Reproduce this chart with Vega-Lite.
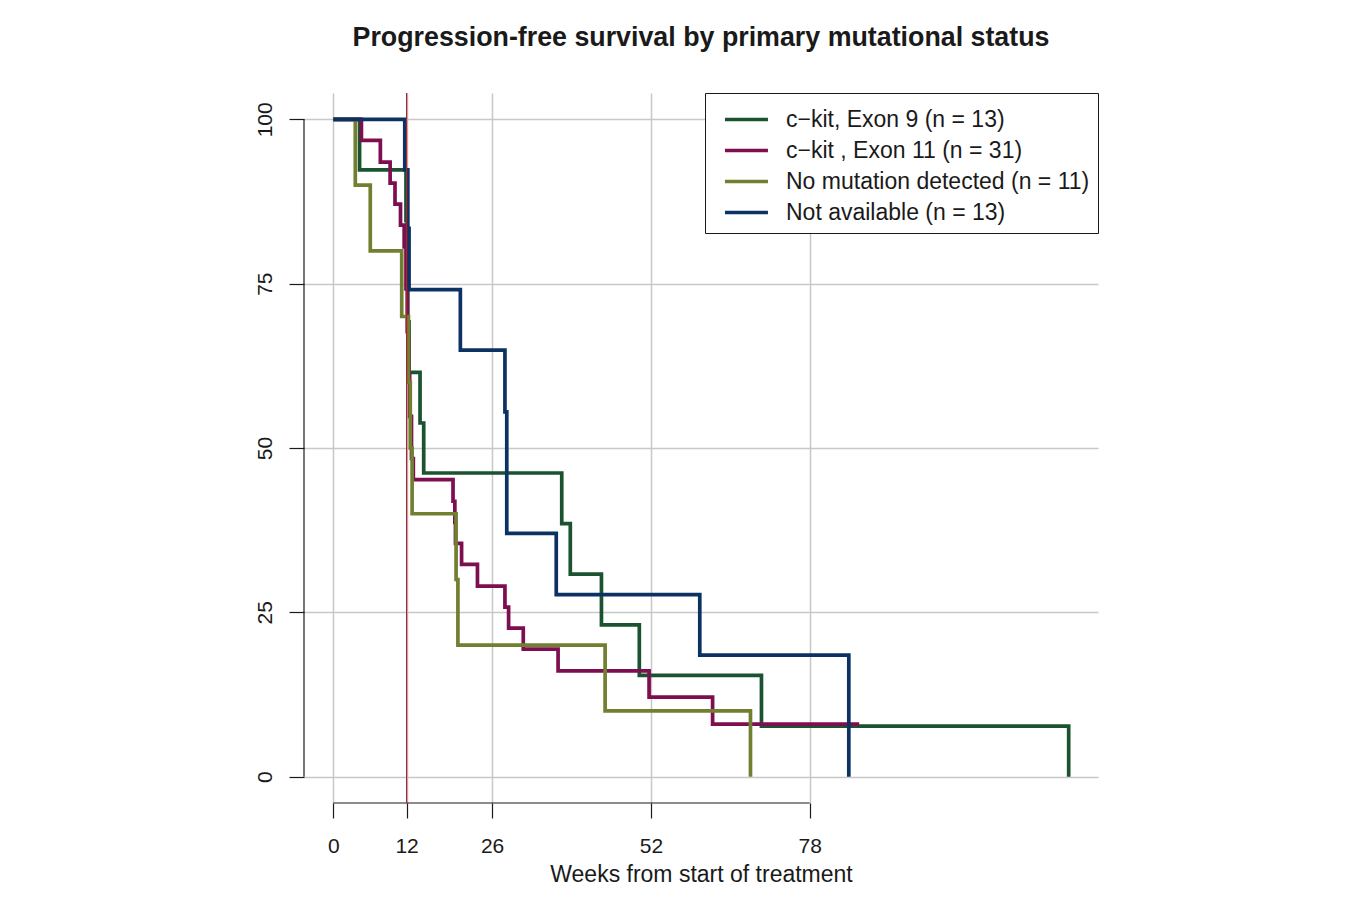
{
  "$schema": "https://vega.github.io/schema/vega-lite/v6.json",
  "autosize": {"type": "none"},
  "padding": {"left": 304, "top": 93, "right": 249, "bottom": 118},
  "width": 794,
  "height": 710,
  "background": "white",
  "title": {
    "text": "Progression-free survival by primary mutational status",
    "fontSize": 26.8,
    "fontWeight": "bold",
    "font": "Liberation Sans",
    "color": "#1a1a1a",
    "anchor": "middle",
    "offset": 41
  },
  "config": {
    "view": {"stroke": null},
    "font": "Liberation Sans"
  },
  "datasets": {
    "curves": [
      {"g": "c−kit, Exon 9 (n = 13)", "t": 0, "s": 100},
      {"g": "c−kit, Exon 9 (n = 13)", "t": 4.3, "s": 92.3},
      {"g": "c−kit, Exon 9 (n = 13)", "t": 11.9, "s": 84.6},
      {"g": "c−kit, Exon 9 (n = 13)", "t": 12.1, "s": 76.9},
      {"g": "c−kit, Exon 9 (n = 13)", "t": 12.2, "s": 69.2},
      {"g": "c−kit, Exon 9 (n = 13)", "t": 12.4, "s": 61.5},
      {"g": "c−kit, Exon 9 (n = 13)", "t": 14.2, "s": 53.8},
      {"g": "c−kit, Exon 9 (n = 13)", "t": 14.8, "s": 46.2},
      {"g": "c−kit, Exon 9 (n = 13)", "t": 37.4, "s": 38.5},
      {"g": "c−kit, Exon 9 (n = 13)", "t": 38.8, "s": 30.8},
      {"g": "c−kit, Exon 9 (n = 13)", "t": 43.9, "s": 23.1},
      {"g": "c−kit, Exon 9 (n = 13)", "t": 50.1, "s": 15.4},
      {"g": "c−kit, Exon 9 (n = 13)", "t": 70.1, "s": 7.7},
      {"g": "c−kit, Exon 9 (n = 13)", "t": 120.4, "s": 0},
      {"g": "c−kit , Exon 11 (n = 31)", "t": 0, "s": 100},
      {"g": "c−kit , Exon 11 (n = 31)", "t": 4.6, "s": 96.8},
      {"g": "c−kit , Exon 11 (n = 31)", "t": 7.7, "s": 93.5},
      {"g": "c−kit , Exon 11 (n = 31)", "t": 9.3, "s": 90.3},
      {"g": "c−kit , Exon 11 (n = 31)", "t": 10.1, "s": 87.1},
      {"g": "c−kit , Exon 11 (n = 31)", "t": 11.0, "s": 83.9},
      {"g": "c−kit , Exon 11 (n = 31)", "t": 11.6, "s": 80.6},
      {"g": "c−kit , Exon 11 (n = 31)", "t": 11.9, "s": 74.2},
      {"g": "c−kit , Exon 11 (n = 31)", "t": 12.1, "s": 67.7},
      {"g": "c−kit , Exon 11 (n = 31)", "t": 12.3, "s": 61.3},
      {"g": "c−kit , Exon 11 (n = 31)", "t": 12.5, "s": 54.8},
      {"g": "c−kit , Exon 11 (n = 31)", "t": 12.8, "s": 48.4},
      {"g": "c−kit , Exon 11 (n = 31)", "t": 13.1, "s": 45.2},
      {"g": "c−kit , Exon 11 (n = 31)", "t": 19.6, "s": 41.9},
      {"g": "c−kit , Exon 11 (n = 31)", "t": 19.9, "s": 38.7},
      {"g": "c−kit , Exon 11 (n = 31)", "t": 20.0, "s": 35.5},
      {"g": "c−kit , Exon 11 (n = 31)", "t": 21.0, "s": 32.3},
      {"g": "c−kit , Exon 11 (n = 31)", "t": 23.6, "s": 29.0},
      {"g": "c−kit , Exon 11 (n = 31)", "t": 28.1, "s": 25.8},
      {"g": "c−kit , Exon 11 (n = 31)", "t": 28.7, "s": 22.6},
      {"g": "c−kit , Exon 11 (n = 31)", "t": 31.1, "s": 19.4},
      {"g": "c−kit , Exon 11 (n = 31)", "t": 36.8, "s": 16.1},
      {"g": "c−kit , Exon 11 (n = 31)", "t": 51.7, "s": 12.1},
      {"g": "c−kit , Exon 11 (n = 31)", "t": 62.1, "s": 8.0},
      {"g": "c−kit , Exon 11 (n = 31)", "t": 86.1, "s": 8.0},
      {"g": "No mutation detected (n = 11)", "t": 0, "s": 100},
      {"g": "No mutation detected (n = 11)", "t": 3.6, "s": 90},
      {"g": "No mutation detected (n = 11)", "t": 6.05, "s": 80},
      {"g": "No mutation detected (n = 11)", "t": 11.2, "s": 70},
      {"g": "No mutation detected (n = 11)", "t": 12.3, "s": 60},
      {"g": "No mutation detected (n = 11)", "t": 12.6, "s": 50},
      {"g": "No mutation detected (n = 11)", "t": 12.9, "s": 40},
      {"g": "No mutation detected (n = 11)", "t": 20.1, "s": 30},
      {"g": "No mutation detected (n = 11)", "t": 20.4, "s": 20},
      {"g": "No mutation detected (n = 11)", "t": 44.5, "s": 10},
      {"g": "No mutation detected (n = 11)", "t": 68.3, "s": 0},
      {"g": "Not available (n = 13)", "t": 0, "s": 100},
      {"g": "Not available (n = 13)", "t": 11.7, "s": 92.3},
      {"g": "Not available (n = 13)", "t": 12.2, "s": 83.4},
      {"g": "Not available (n = 13)", "t": 12.4, "s": 74.1},
      {"g": "Not available (n = 13)", "t": 20.8, "s": 64.9},
      {"g": "Not available (n = 13)", "t": 28.1, "s": 55.5},
      {"g": "Not available (n = 13)", "t": 28.4, "s": 37.0},
      {"g": "Not available (n = 13)", "t": 36.5, "s": 27.7},
      {"g": "Not available (n = 13)", "t": 60.0, "s": 18.5},
      {"g": "Not available (n = 13)", "t": 84.4, "s": 0}
    ],
    "xaxisline": [{"a": 0, "b": 78, "yy": -4}],
    "yaxisline": [{"xx": -4.8, "a": 0, "b": 100}],
    "landmark": [{"w": 12}]
  },
  "layer": [
    {
      "data": {"name": "curves"},
      "mark": {"type": "line", "interpolate": "step-after", "strokeWidth": 3.7},
      "encoding": {
        "x": {
          "field": "t", "type": "quantitative",
          "scale": {"domain": [-4.8, 125.2], "nice": false, "zero": false},
          "axis": {
            "values": [0, 12, 26, 52, 78],
            "title": "Weeks from start of treatment",
            "titleFontSize": 23,
            "titleFontWeight": "normal",
            "titleColor": "#1a1a1a",
            "titlePadding": 7,
            "domain": false,
            "tickSize": 15,
            "tickColor": "#1a1a1a",
            "tickWidth": 1.2,
            "labelFontSize": 21,
            "labelColor": "#1a1a1a",
            "labelPadding": 17,
            "grid": true,
            "gridColor": "#c8c8c8",
            "gridWidth": 1.5
          }
        },
        "y": {
          "field": "s", "type": "quantitative",
          "scale": {"domain": [-4, 104], "nice": false, "zero": false},
          "axis": {
            "values": [0, 25, 50, 75, 100],
            "title": null,
            "domain": false,
            "tickSize": 15,
            "tickColor": "#1a1a1a",
            "tickWidth": 1.2,
            "labelFontSize": 21,
            "labelColor": "#1a1a1a",
            "labelAngle": -90,
            "labelAlign": "center",
            "labelBaseline": "bottom",
            "labelPadding": 14,
            "grid": true,
            "gridColor": "#c8c8c8",
            "gridWidth": 1.5
          }
        },
        "color": {
          "field": "g", "type": "nominal",
          "scale": {
            "domain": ["c−kit, Exon 9 (n = 13)", "c−kit , Exon 11 (n = 31)", "No mutation detected (n = 11)", "Not available (n = 13)"],
            "range": ["#1b5330", "#7d0f50", "#708030", "#0c3264"]
          },
          "legend": {
            "title": null,
            "orient": "top-right",
            "offset": 0,
            "strokeColor": "#1a1a1a",
            "fillColor": "white",
            "padding": 8,
            "labelFontSize": 23,
            "labelLimit": 500,
            "labelColor": "#1a1a1a",
            "labelOffset": 36,
            "rowPadding": 0,
            "symbolType": "M-0.4,0H2.23",
            "symbolSize": 1069,
            "symbolStrokeWidth": 3.5
          }
        }
      }
    },
    {
      "data": {"name": "xaxisline"},
      "mark": {"type": "rule", "color": "#1a1a1a", "strokeWidth": 1.2},
      "encoding": {
        "x": {"field": "a", "type": "quantitative"},
        "x2": {"field": "b"},
        "y": {"field": "yy", "type": "quantitative"}
      }
    },
    {
      "data": {"name": "yaxisline"},
      "mark": {"type": "rule", "color": "#1a1a1a", "strokeWidth": 1.2},
      "encoding": {
        "x": {"field": "xx", "type": "quantitative"},
        "y": {"field": "a", "type": "quantitative"},
        "y2": {"field": "b"}
      }
    },
    {
      "data": {"name": "landmark"},
      "mark": {"type": "rule", "color": "#a8262e", "strokeWidth": 1.2},
      "encoding": {
        "x": {"field": "w", "type": "quantitative"}
      }
    }
  ]
}
